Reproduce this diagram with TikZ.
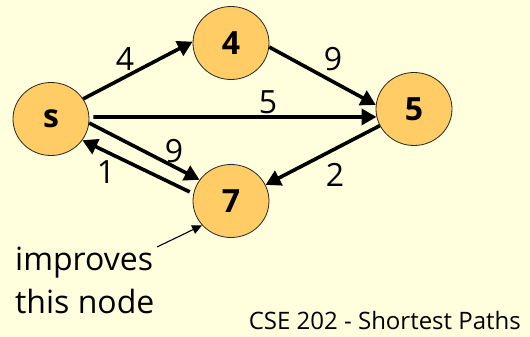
\documentclass[tikz,border=0pt]{standalone}
\usepackage{fontspec}
\setmainfont{Open Sans}
\usetikzlibrary{arrows.meta,shapes.geometric}
\definecolor{bg}{HTML}{FFFFDD}
\definecolor{nodefill}{HTML}{FFCC66}
\tikzset{
  vert/.style={ellipse,draw=black!85,line width=0.8pt,fill=nodefill,minimum width=76pt,minimum height=73pt,inner sep=0pt,font=\fontsize{32}{32}\selectfont\bfseries},
  edge/.style={line width=3.6pt,-{Triangle[length=15pt,width=16pt]}},
  wlabel/.style={font=\fontsize{32}{32}\selectfont},
  note/.style={font=\fontsize{32}{32}\selectfont,anchor=base west,inner sep=0pt},
  pointer/.style={line width=1.1pt,-{Triangle[length=10pt,width=9pt]}}
}
\begin{document}
\begin{tikzpicture}[x=1pt,y=1pt]
\fill[bg] (0,0) rectangle (530,337);
\useasboundingbox (0,0) rectangle (530,337);
\node[vert] (s) at (51,218) {s};
\node[vert] (n4) at (231,294) {4};
\node[vert] (n5) at (414,228) {5};
\node[vert] (n7) at (231,136) {7};
\draw[edge] (s.32) -- (n4.178);
\draw[edge] (n4.-6) -- (n5.174);
\draw[edge,shorten <=4pt] (s.3) -- (n5.192);
\draw[edge] (s.-6) -- (n7.146);
\draw[edge,shorten <=4pt] (n7.169) -- (s.-34);
\draw[edge] (n5.206) -- (n7.25);
\node[wlabel] (l4) at (125,278) {4};
\node[wlabel] (l9a) at (333,278) {9};
\node[wlabel] (l5) at (268,235) {5};
\node[wlabel] (l9b) at (174,186) {9};
\node[wlabel] (l1) at (106,165) {1};
\node[wlabel] (l2) at (335,162) {2};
\node[note] (imp) at (15,66) {improves};
\node[note] (thn) at (15,23) {this node};
\coordinate (ptr) at (157,90);
\draw[pointer] (ptr) -- (n7.220);
\node[anchor=base east,inner sep=0pt,font=\fontsize{24}{24}\selectfont] (cse) at (521,7) {CSE 202 - Shortest Paths};
\end{tikzpicture}
\end{document}
